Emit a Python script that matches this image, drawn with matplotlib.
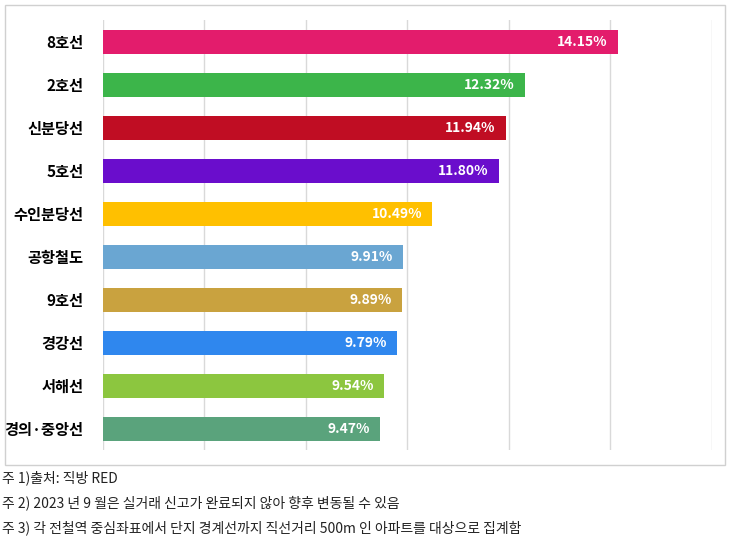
import matplotlib.pyplot as plt
from matplotlib.patches import Rectangle

plt.rcParams['font.family'] = ['Noto Sans CJK KR', 'Noto Sans CJK JP', 'Noto Sans CJK SC', 'DejaVu Sans']

lines = ['8호선', '2호선', '신분당선', '5호선', '수인분당선', '공항철도', '9호선', '경강선', '서해선', '경의·중앙선']
rates = [14.15, 12.32, 11.94, 11.80, 10.49, 9.91, 9.89, 9.79, 9.54, 9.47]
colors = ['#e31c6c', '#3cb54a', '#c00d23', '#6a0dcc', '#ffc000', '#6aa6d2',
          '#c9a23f', '#2f87ee', '#8cc63f', '#5aa37c']
notes = ['주 1)출처: 직방 RED',
         '주 2) 2023 년 9 월은 실거래 신고가 완료되지 않아 향후 변동될 수 있음',
         '주 3) 각 전철역 중심좌표에서 단지 경계선까지 직선거리 500m 인 아파트를 대상으로 집계함']

fig = plt.figure(figsize=(7.3, 5.45), dpi=100)
ax = fig.add_axes([0.141, 0.174, 0.834, 0.789])

y = list(range(len(lines)))
ax.barh(y, [r - 4 for r in rates], left=4, height=0.56, color=colors, zorder=2)
for yi, r in zip(y, rates):
    ax.text(r - 0.2, yi, f'{r:.2f}%', ha='right', va='center', color='white',
            fontsize=10, fontweight='bold', zorder=3)

ax.set_xlim(4, 16)
ax.set_ylim(9.5, -0.5)
ax.set_xticks(range(4, 17, 2))
ax.set_xticklabels([])
ax.grid(axis='x', color='#d9d9d9', linewidth=1, zorder=0)
ax.set_yticks(y)
ax.set_yticklabels(lines, fontsize=11, fontweight='bold')
ax.tick_params(length=0, pad=14)
for s in ax.spines.values():
    s.set_visible(False)

fig.patches.append(Rectangle((5 / 730, 1 - 465 / 545), 720 / 730, 460 / 545,
                             transform=fig.transFigure, fill=False,
                             edgecolor='#d0d0d0', linewidth=1))

for i, n in enumerate(notes):
    fig.text(0.003, 1 - (478 + 25 * i) / 545, n, fontsize=10, va='center', color='#222222')

fig.savefig('out.png', dpi=100)
